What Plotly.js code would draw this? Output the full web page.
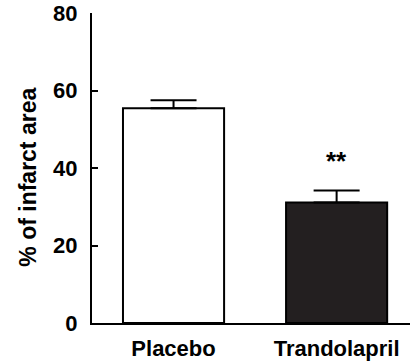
<!DOCTYPE html>
<html>
<head>
<meta charset="utf-8">
<script src="https://cdn.plot.ly/plotly-3.0.1.min.js"></script>
<style>html,body{margin:0;padding:0;background:#fff;}#chart{width:411px;height:361px;}</style>
</head>
<body>
<div id="chart"></div>
<script>
const categories = ['Placebo', 'Trandolapril'];
const meanValues = [55.4, 31.1];
const semValues = [2.1, 3.1];
const barColors = ['#ffffff', '#231f20'];
const significance = ['', '**'];
const yTickValues = [0, 20, 40, 60, 80];
const yTitle = '% of infarct area';

const font = {family: 'Arial, "Liberation Sans", Helvetica, sans-serif', color: '#000'};

const trace = {
  type: 'bar',
  x: categories,
  y: meanValues,
  width: 0.62,
  marker: {color: barColors, line: {color: '#000', width: 2}},
  error_y: {type: 'data', array: semValues, arrayminus: semValues.map(() => 0), symmetric: false,
            color: '#000', thickness: 2, width: 23},
  hoverinfo: 'none'
};

const annotations = categories.map((c, i) => ({
  x: c, y: meanValues[i] + semValues[i], xref: 'x', yref: 'y',
  text: significance[i], showarrow: false, yanchor: 'bottom', yshift: 12,
  font: Object.assign({}, font, {size: 26, weight: 'bold'})
})).filter(a => a.text);

annotations.push({
  xref: 'paper', yref: 'paper', x: -0.2, y: 0.47, xanchor: 'center', yanchor: 'middle',
  text: yTitle, textangle: -90, showarrow: false,
  font: Object.assign({}, font, {size: 23, weight: 'bold'})
});

const layout = {
  width: 411, height: 361,
  margin: {l: 92, r: 1, t: 13, b: 38, pad: 0},
  paper_bgcolor: '#fff', plot_bgcolor: '#fff',
  showlegend: false,
  font: font,
  xaxis: {
    type: 'category', range: [-0.5, 1.45],
    showline: true, linecolor: '#000', linewidth: 2,
    ticks: '', showgrid: false, zeroline: false,
    tickfont: Object.assign({}, font, {size: 22, weight: 'bold'}),
    ticklabelstandoff: 5
  },
  yaxis: {
    range: [0, 80], tickvals: yTickValues,
    showline: true, linecolor: '#000', linewidth: 2,
    ticks: 'inside', ticklen: 6, tickwidth: 2, tickcolor: '#000',
    showgrid: false, zeroline: false,
    tickfont: Object.assign({}, font, {size: 22, weight: 'bold'}),
    ticklabelstandoff: 8
  },
  annotations: annotations
};

Plotly.newPlot('chart', [trace], layout, {staticPlot: true, displayModeBar: false});
</script>
</body>
</html>
